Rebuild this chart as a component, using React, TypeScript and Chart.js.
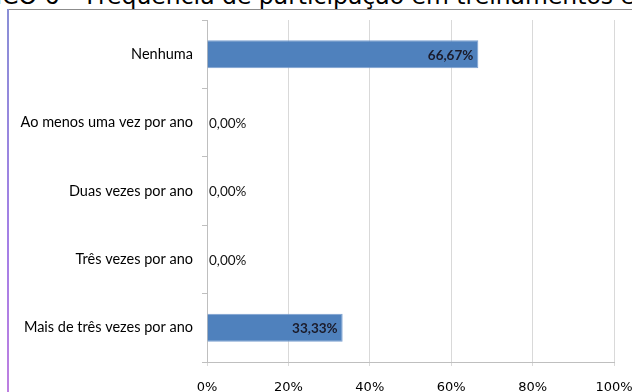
import React, { useEffect, useRef } from "react";
import { Chart, registerables } from "chart.js";

Chart.register(...registerables);

const categories = [
  "Nenhuma",
  "Ao menos uma vez por ano",
  "Duas vezes por ano",
  "Três vezes por ano",
  "Mais de três vezes por ano",
];
const values = [66.67, 0, 0, 0, 33.33];
const valueLabels = ["66,67%", "0,00%", "0,00%", "0,00%", "33,33%"];
const xTicks = [0, 20, 40, 60, 80, 100];
const title = "GRÁFICO 6 – Frequência de participação em treinamentos e fornecedores";

const labelPlugin = {
  id: "valueLabels",
  afterDatasetsDraw(chart: any) {
    const ctx = chart.ctx;
    const meta = chart.getDatasetMeta(0);
    ctx.save();
    ctx.textBaseline = "middle";
    meta.data.forEach((bar: any, i: number) => {
      const v = values[i];
      if (v > 0) {
        ctx.font = "bold 13.5px Lato, 'Open Sans', sans-serif";
        ctx.fillStyle = "#1b1b2a";
        ctx.textAlign = "right";
        ctx.fillText(valueLabels[i], bar.x - 5, bar.y + 1);
      } else {
        ctx.font = "13.5px Lato, 'Open Sans', sans-serif";
        ctx.fillStyle = "#111";
        ctx.textAlign = "left";
        ctx.fillText(valueLabels[i], bar.base + 2, bar.y + 1);
      }
    });
    ctx.restore();
  },
};

export default function App() {
  const ref = useRef<HTMLCanvasElement | null>(null);
  useEffect(() => {
    if (!ref.current) return;
    const chart = new Chart(ref.current, {
      type: "bar",
      data: {
        labels: categories,
        datasets: [
          {
            data: values,
            backgroundColor: "#4f81bd",
            borderColor: "#7a9fd0",
            borderWidth: 1,
            barPercentage: 0.41,
            categoryPercentage: 1,
          },
        ],
      },
      options: {
        indexAxis: "y",
        animation: false,
        responsive: false,
        maintainAspectRatio: false,
        layout: { padding: { top: 20, right: 18, left: 0, bottom: 0 } },
        plugins: {
          legend: { display: false },
          tooltip: { enabled: false },
          title: { display: false },
        },
        scales: {
          x: {
            min: 0,
            max: 100,
            afterFit(scale: any) {
              scale.height = 30;
              scale.paddingLeft = 0;
              scale.paddingRight = 0;
            },
            afterBuildTicks(scale: any) {
              scale.ticks = xTicks.map((v) => ({ value: v }));
            },
            ticks: {
              padding: 14,
              color: "#000",
              font: { family: "'DejaVu Sans', Verdana, sans-serif", size: 13 },
              callback: (v: any) => v + "%",
            },
            grid: {
              color: "#d9d9d9",
              tickLength: 4,
              drawTicks: true,
            },
            border: { color: "#bfbfbf" },
          },
          y: {
            afterFit(scale: any) {
              scale.width = 207;
              scale.paddingTop = 0;
              scale.paddingBottom = 0;
            },
            ticks: {
              padding: 9,
              color: "#000",
              font: { family: "Lato, 'Open Sans', sans-serif", size: 14.5 },
            },
            grid: {
              offset: true,
              drawOnChartArea: false,
              drawTicks: true,
              tickLength: 5,
              color: "#bfbfbf",
            },
            border: { color: "#bfbfbf" },
          },
        },
      },
      plugins: [labelPlugin],
    } as any);
    return () => chart.destroy();
  }, []);

  return (
    <div style={{ position: "fixed", left: 0, top: 0, width: 632, height: 392, overflow: "hidden", background: "#fff" }}>
      <div
        style={{
          position: "absolute",
          left: -68,
          top: -15,
          whiteSpace: "nowrap",
          fontFamily: "'DejaVu Sans', Verdana, sans-serif",
          fontSize: 23.5,
          lineHeight: "23.5px",
          color: "#000",
        }}
      >
        {title}
      </div>
      <div style={{ position: "absolute", left: 8, top: 9, width: 700, height: 1, background: "#8c8c8c" }} />
      <div
        style={{
          position: "absolute",
          left: 7,
          top: 9,
          width: 2,
          height: 400,
          background: "linear-gradient(#8a8fd6, #a57fe6 60%, #c07fe0)",
        }}
      />
      <canvas ref={ref} width={632} height={392} style={{ position: "absolute", left: 0, top: 0, width: 632, height: 392 }} />
    </div>
  );
}
